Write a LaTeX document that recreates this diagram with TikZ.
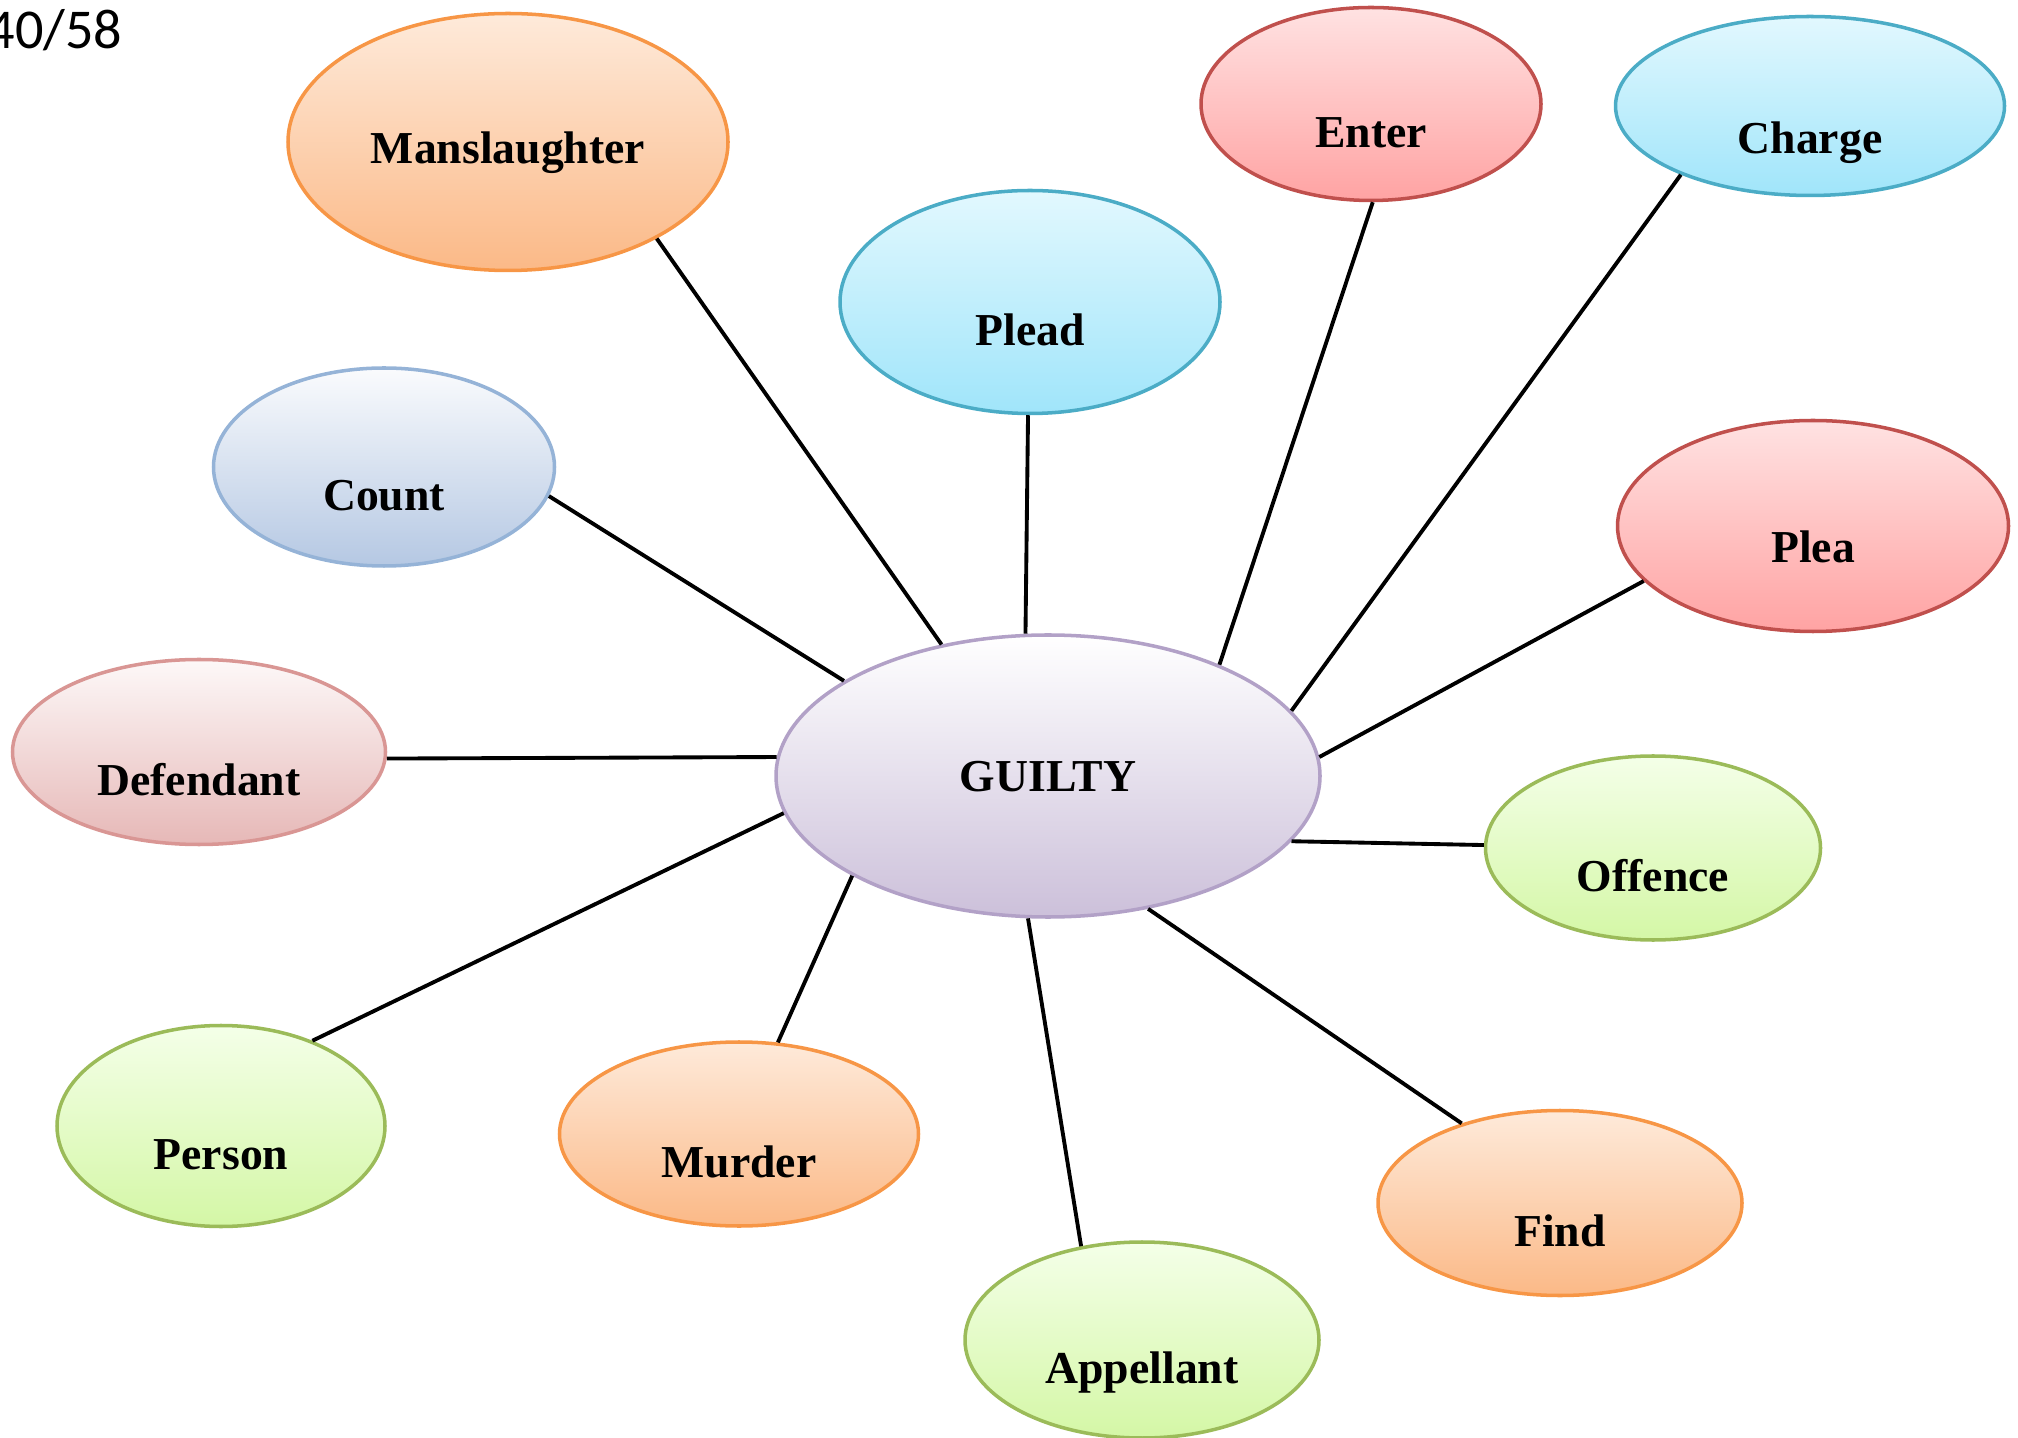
\documentclass[tikz,border=0pt]{standalone}
\usepackage{fontspec}
\setmainfont{Liberation Serif}
\newfontfamily\pagefont{Carlito}
\usetikzlibrary{shapes.geometric}
\definecolor{orngline}{RGB}{247,150,70}
\definecolor{orngtop}{RGB}{254,234,218}
\definecolor{orngbot}{RGB}{251,185,135}
\definecolor{blueline}{RGB}{75,172,198}
\definecolor{bluetop}{RGB}{226,248,254}
\definecolor{bluebot}{RGB}{160,229,250}
\definecolor{redline}{RGB}{192,80,77}
\definecolor{redtop}{RGB}{255,226,226}
\definecolor{redbot}{RGB}{255,163,163}
\definecolor{grnline}{RGB}{155,187,89}
\definecolor{grntop}{RGB}{244,255,232}
\definecolor{grnbot}{RGB}{212,247,166}
\definecolor{cntline}{RGB}{149,179,215}
\definecolor{cnttop}{RGB}{250,251,253}
\definecolor{cntbot}{RGB}{181,200,227}
\definecolor{defline}{RGB}{217,150,148}
\definecolor{deftop}{RGB}{253,248,248}
\definecolor{defbot}{RGB}{230,184,183}
\definecolor{hubline}{RGB}{178,161,199}
\definecolor{hubtop}{RGB}{255,255,255}
\definecolor{hubbot}{RGB}{204,192,218}

\begin{document}
\begin{tikzpicture}[
    wrd/.style={ellipse, line width=1pt, inner sep=0pt, text height=25pt, text depth=0pt, font=\fontsize{13}{15}\selectfont\bfseries},
    orng/.style={wrd, draw=orngline, top color=orngtop, bottom color=orngbot},
    blu/.style={wrd, draw=blueline, top color=bluetop, bottom color=bluebot},
    rd/.style={wrd, draw=redline, top color=redtop, bottom color=redbot},
    grn/.style={wrd, draw=grnline, top color=grntop, bottom color=grnbot},
    cnt/.style={wrd, draw=cntline, top color=cnttop, bottom color=cntbot},
    dfd/.style={wrd, draw=defline, top color=deftop, bottom color=defbot},
    hub/.style={wrd, draw=hubline, top color=hubtop, bottom color=hubbot, text height=9pt},
    lnk/.style={draw=black, line width=1.1pt}
]
    \useasboundingbox (0,0) rectangle (20.18,14.37);
    \clip (0,0) rectangle (20.18,14.37);

    % Slide number
    \node[font=\pagefont\fontsize{16}{19}\selectfont, anchor=base west, inner sep=0pt] (pgnum) at (-0.14,13.88) {40/58};

    % Centre
    \node[hub, minimum width=5.44cm, minimum height=2.82cm] (guilty) at (10.48,6.61) {GUILTY};

    % Words round the centre
    \node[orng, minimum width=4.40cm, minimum height=2.57cm, text height=12pt] (manslaughter) at (5.08,12.95) {Manslaughter};
    \node[blu, minimum width=3.80cm, minimum height=2.23cm] (plead) at (10.30,11.35) {Plead};
    \node[rd, minimum width=3.40cm, minimum height=1.93cm] (enter) at (13.71,13.33) {Enter};
    \node[blu, minimum width=3.89cm, minimum height=1.79cm, text height=27pt] (charge) at (18.10,13.31) {Charge};
    \node[cnt, minimum width=3.41cm, minimum height=1.98cm] (count) at (3.84,9.70) {Count};
    \node[rd, minimum width=3.91cm, minimum height=2.11cm, text height=21pt] (plea) at (18.13,9.11) {Plea};
    \node[dfd, minimum width=3.73cm, minimum height=1.85cm] (defendant) at (1.99,6.85) {Defendant};
    \node[grn, minimum width=3.35cm, minimum height=1.84cm] (offence) at (16.53,5.89) {Offence};
    \node[grn, minimum width=3.28cm, minimum height=2.01cm] (person) at (2.21,3.11) {Person};
    \node[orng, minimum width=3.59cm, minimum height=1.84cm] (murder) at (7.39,3.03) {Murder};
    \node[orng, minimum width=3.64cm, minimum height=1.85cm] (find) at (15.60,2.34) {Find};
    \node[grn, minimum width=3.54cm, minimum height=1.96cm] (appellant) at (11.42,0.97) {Appellant};

    % Links: centre to words
    \foreach \w/\a/\b in {manslaughter/129/327, plead/99/269, enter/33/271, charge/15/208,
        count/155/350, plea/4/198, defendant/176/358, offence/345/179,
        person/188/43, murder/207/67, find/307/141, appellant/262/123} {
        \draw[lnk] (guilty.\a) -- (\w.\b);
    }
\end{tikzpicture}
\end{document}
